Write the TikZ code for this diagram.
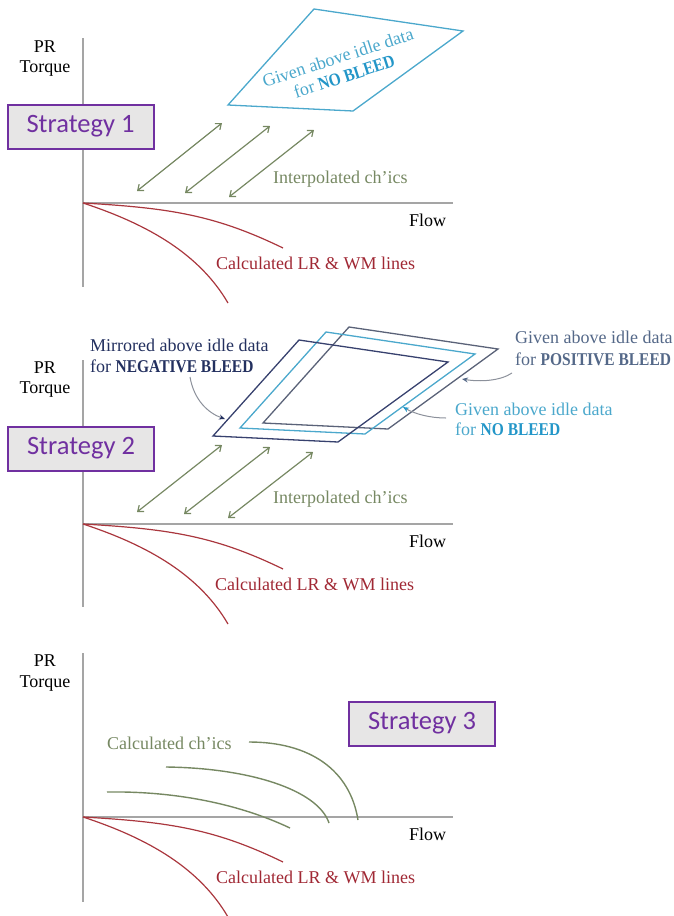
\documentclass[tikz,border=0pt]{standalone}
\usepackage{fontspec}
\setmainfont{Liberation Serif}
\newfontfamily\calibfont{Carlito}
\newfontfamily\condserif{Liberation Serif}[FakeStretch=0.86]
\newcommand\bcond[1]{{\condserif\bfseries #1}}
\usetikzlibrary{arrows.meta}
\definecolor{axisgray}{RGB}{165,165,165}
\definecolor{curvered}{RGB}{170,55,62}
\definecolor{labelred}{RGB}{160,40,52}
\definecolor{olivegreen}{RGB}{118,136,98}
\definecolor{aqua}{RGB}{75,168,204}
\definecolor{aquadark}{RGB}{35,150,200}
\definecolor{slate}{RGB}{84,104,136}
\definecolor{slateline}{RGB}{90,98,120}
\definecolor{navy}{RGB}{35,48,95}
\definecolor{navyline}{RGB}{55,65,110}
\definecolor{purp}{RGB}{112,48,160}
\definecolor{boxgray}{RGB}{231,230,230}
\definecolor{pointergray}{RGB}{140,145,155}
\tikzset{
  axisline/.style={draw=axisgray, line width=1.1pt},
  lbl/.style={font=\fontsize{18}{20}\selectfont, inner sep=0pt, anchor=base west},
  axlbl/.style={font=\fontsize{18}{20}\selectfont, inner sep=0pt, anchor=base},
  stratbox/.style={draw=purp, line width=2pt, fill=boxgray, text=purp,
    font=\calibfont\fontsize{26.5}{28}\selectfont, minimum width=146pt,
    minimum height=44pt, inner sep=0pt},
  redcurve/.style={draw=curvered, line width=1.2pt},
  greencurve/.style={draw=olivegreen, line width=1.4pt},
  biarrow/.style={draw=olivegreen, line width=1.2pt,
    {Straight Barb[length=5pt,width=8pt]}-{Straight Barb[length=5pt,width=8pt]}},
  quadline/.style={line width=1.3pt},
  pointer/.style={draw=pointergray, line width=1pt}
}
\begin{document}
\begin{tikzpicture}[x=1pt,y=-1pt]
\useasboundingbox (0,0) rectangle (674,916);

% ================= Strategy 1 =================
\draw[axisline] (83,38) -- (83,287);
\draw[axisline] (83,203) -- (453,203);
\node[axlbl] (pr1) at (45,52) {PR};
\node[axlbl] (tq1) at (45,72) {Torque};
\node[stratbox] (s1) at (80.5,126.5) {Strategy 1};
\begin{scope}[shift={(83,203)}]
  \draw[redcurve] (0,0) .. controls (87,5) and (132,12) .. (200,45);
  \draw[redcurve] (0,0) .. controls (67,22) and (117,52) .. (145,100);
  \coordinate (a1s) at (54,-12);  \coordinate (a1e) at (139,-80);
  \coordinate (a2s) at (102,-10); \coordinate (a2e) at (187,-77);
  \coordinate (a3s) at (146,-6);  \coordinate (a3e) at (231,-73);
\end{scope}
\draw[biarrow] (a1s) -- (a1e);
\draw[biarrow] (a2s) -- (a2e);
\draw[biarrow] (a3s) -- (a3e);
\draw[draw=aqua, quadline, shift={(228,105)}] (0,0) -- (86,-96) -- (235,-74) -- (125,6) -- cycle;
\node[font=\fontsize{18}{20}\selectfont, text=aqua, align=center, rotate=18, inner sep=0pt] (nb1) at (341,67)
  {Given above idle data\\for {\color{aquadark}\bcond{NO BLEED}}};
\node[lbl, text=olivegreen] (ip1) at (273,183) {Interpolated ch’ics};
\node[lbl] (fl1) at (409,226) {Flow};
\node[lbl, text=labelred] (cl1) at (216,269) {Calculated LR \& WM lines};

% ================= Strategy 2 =================
\draw[axisline] (83,360) -- (83,607);
\draw[axisline] (83,524) -- (453,524);
\node[axlbl] (pr2) at (45,373) {PR};
\node[axlbl] (tq2) at (45,393) {Torque};
\node[stratbox] (s2) at (81,448.5) {Strategy 2};
\begin{scope}[shift={(83,524)}]
  \draw[redcurve] (0,0) .. controls (87,5) and (132,12) .. (200,45);
  \draw[redcurve] (0,0) .. controls (67,22) and (117,52) .. (145,100);
  \coordinate (b1s) at (54,-12);  \coordinate (b1e) at (139,-79);
  \coordinate (b2s) at (101,-10); \coordinate (b2e) at (187,-77);
  \coordinate (b3s) at (145,-6);  \coordinate (b3e) at (230,-72);
\end{scope}
\draw[biarrow] (b1s) -- (b1e);
\draw[biarrow] (b2s) -- (b2e);
\draw[biarrow] (b3s) -- (b3e);
\draw[draw=slateline, quadline, shift={(263,423)}] (0,0) -- (86,-96) -- (235,-74) -- (125,6) -- cycle;
\draw[draw=aqua, quadline, shift={(240,428)}] (0,0) -- (86,-96) -- (235,-74) -- (125,6) -- cycle;
\draw[draw=navyline, quadline, shift={(213,436)}] (0,0) -- (86,-96) -- (235,-74) -- (125,6) -- cycle;
\node[lbl, text=navy] (mi1) at (90,351) {Mirrored above idle data};
\node[lbl, text=navy] (mi2) at (90,372) {for \bcond{NEGATIVE BLEED}};
\coordinate (negs) at (190,377);
\coordinate (nege) at (225,419);
\draw[pointer, -{Stealth[length=6pt,width=5pt,color=navy]}] (negs) .. controls (194,400) and (208,413) .. (nege);
\node[lbl, text=slate] (po1) at (515,343) {Given above idle data};
\node[lbl, text=slate] (po2) at (515,365) {for \bcond{POSITIVE BLEED}};
\coordinate (poss) at (512,373);
\coordinate (pose) at (462,379);
\draw[pointer, -{Stealth[length=6pt,width=5pt,color=slate]}] (poss) .. controls (500,381) and (480,382) .. (pose);
\node[lbl, text=aqua] (no1) at (455,415) {Given above idle data};
\node[lbl, text=aqua] (no2) at (455,435) {for {\color{aquadark}\bcond{NO BLEED}}};
\coordinate (nobs) at (446,418);
\coordinate (nobe) at (403,407);
\draw[pointer, -{Stealth[length=6pt,width=5pt,color=aquadark]}] (nobs) .. controls (430,418) and (415,414) .. (nobe);
\node[lbl, text=olivegreen] (ip2) at (273,503) {Interpolated ch’ics};
\node[lbl] (fl2) at (409,547) {Flow};
\node[lbl, text=labelred] (cl2) at (215,590) {Calculated LR \& WM lines};

% ================= Strategy 3 =================
\draw[axisline] (83,653) -- (83,902);
\draw[axisline] (83,817) -- (453,817);
\node[axlbl] (pr3) at (45,666) {PR};
\node[axlbl] (tq3) at (45,687) {Torque};
\node[stratbox] (s3) at (422,723.5) {Strategy 3};
\begin{scope}[shift={(83,817)}]
  \draw[redcurve] (0,0) .. controls (87,5) and (132,12) .. (200,45);
  \draw[redcurve] (0,0) .. controls (67,22) and (117,52) .. (145,100);
\end{scope}
\draw[greencurve] (107,792) .. controls (170,791) and (235,802) .. (290,828);
\draw[greencurve] (166,767) .. controls (250,768) and (318,790) .. (329,823);
\draw[greencurve] (249,742) .. controls (310,742) and (350,770) .. (358,820);
\node[lbl, text=olivegreen] (cc3) at (107,749) {Calculated ch’ics};
\node[lbl] (fl3) at (409,840) {Flow};
\node[lbl, text=labelred] (cl3) at (216,883) {Calculated LR \& WM lines};
\end{tikzpicture}
\end{document}
